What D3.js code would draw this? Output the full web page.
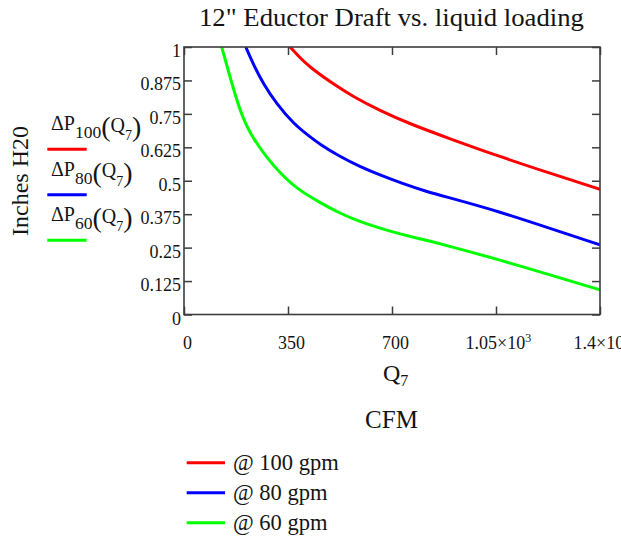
<!DOCTYPE html>
<html><head><meta charset="utf-8">
<script src="https://cdn.jsdelivr.net/npm/d3@7/dist/d3.min.js"></script>
<style>
html,body{margin:0;padding:0;background:#fff;}
svg{display:block;font-family:"Liberation Serif","Times New Roman",serif;}
</style></head><body>
<svg id="c" width="621" height="542"></svg>
<script>
// ---- data ----
const title = '12" Eductor Draft vs. liquid loading';
const seriesNames = ["100", "80", "60"];
const legendLabels = ["@ 100 gpm", "@ 80 gpm", "@ 60 gpm"];
const seriesColors = ["#ff0000", "#0000ff", "#00ff00"];
const q100 = [357, 390, 424, 502, 570, 660, 761, 895, 1063, 1232, 1400];
const dp100 = [1.0, 0.960, 0.924, 0.862, 0.814, 0.762, 0.712, 0.657, 0.590, 0.528, 0.468];
const q80 = [208, 233, 267, 312, 368, 424, 458, 525, 592, 660, 727, 817, 895, 1063, 1232, 1400];
const dp80 = [1.0, 0.936, 0.862, 0.787, 0.714, 0.664, 0.636, 0.590, 0.553, 0.521, 0.493, 0.459, 0.436, 0.384, 0.322, 0.26];
const q60 = [127, 155, 188, 222, 284, 323, 379, 458, 525, 592, 660, 727, 817, 895, 1063, 1232, 1400];
const dp60 = [1.0, 0.887, 0.762, 0.675, 0.578, 0.530, 0.470, 0.418, 0.378, 0.347, 0.322, 0.301, 0.277, 0.255, 0.204, 0.148, 0.092];
const xTicks = [0, 350, 700, 1050, 1400];
const yTicks = [0, 0.125, 0.25, 0.375, 0.5, 0.625, 0.75, 0.875, 1];
const yTickLabels = ["0", "0.125", "0.25", "0.375", "0.5", "0.625", "0.75", "0.875", "1"];

const series = [
  {name: seriesNames[0], q: q100, dp: dp100, color: seriesColors[0], legend: legendLabels[0]},
  {name: seriesNames[1], q: q80, dp: dp80, color: seriesColors[1], legend: legendLabels[1]},
  {name: seriesNames[2], q: q60, dp: dp60, color: seriesColors[2], legend: legendLabels[2]}
];

// ---- layout ----
const L = 184, R = 600, T = 47, B = 314.5;
const svg = d3.select("#c");
const x = d3.scaleLinear().domain([0, 1400]).range([L, R]);
const y = d3.scaleLinear().domain([0, 1]).range([B, T]);
const ink = "#141414";
const frame = "#3c3c3c";

// title
svg.append("text").attr("x", 391.5).attr("y", 26).attr("text-anchor", "middle")
  .attr("font-size", 25.5).attr("textLength", 385).attr("lengthAdjust", "spacingAndGlyphs")
  .attr("fill", ink).text(title);

// clip
svg.append("clipPath").attr("id", "clip").append("rect")
  .attr("x", L).attr("y", T).attr("width", R - L).attr("height", B - T);

// curves
const line = d3.line().x(d => x(d[0])).y(d => y(d[1])).curve(d3.curveBasis);
const g = svg.append("g").attr("clip-path", "url(#clip)");
series.forEach(s => {
  g.append("path").datum(s.q.map((v, i) => [v, s.dp[i]]))
    .attr("d", line).attr("fill", "none").attr("stroke", s.color)
    .attr("stroke-width", 3).attr("stroke-linejoin", "round");
});

// axes (inner ticks on all sides)
function styleAxis(sel) {
  sel.select(".domain").remove();
  sel.selectAll(".tick line").attr("stroke", frame).attr("stroke-width", 1.5);
  sel.selectAll("text").attr("fill", ink).attr("font-size", 18)
    .attr("font-family", '"Liberation Serif","Times New Roman",serif');
}
const fmtX = v => v >= 1000 ? (v / 1000) + "×10" : String(v);
const xb = svg.append("g").attr("transform", `translate(0,${B})`)
  .call(d3.axisBottom(x).tickValues(xTicks).tickSizeInner(-8).tickSizeOuter(0).tickPadding(22).tickFormat(fmtX));
styleAxis(xb);
xb.selectAll(".tick text").attr("dx", 3).each(function(d) {
  if (d >= 1000) {
    d3.select(this).attr("text-anchor", "start").attr("dx", 0)
      .attr("x", d === 1400 ? -27 : -31);
    d3.select(this).append("tspan").attr("font-size", 12).attr("dy", "-0.6em").text("3");
  }
});
const xt = svg.append("g").attr("transform", `translate(0,${T})`)
  .call(d3.axisTop(x).tickValues(xTicks).tickSizeInner(-8).tickSizeOuter(0).tickFormat(""));
styleAxis(xt);
const yl = svg.append("g").attr("transform", `translate(${L},0)`)
  .call(d3.axisLeft(y).tickValues(yTicks).tickSizeInner(-8).tickSizeOuter(0).tickPadding(3)
    .tickFormat((d, i) => yTickLabels[i]));
styleAxis(yl);
yl.selectAll(".tick text").attr("dy", "0.53em");
const yr = svg.append("g").attr("transform", `translate(${R},0)`)
  .call(d3.axisRight(y).tickValues(yTicks).tickSizeInner(-8).tickSizeOuter(0).tickFormat(""));
styleAxis(yr);

// frame
svg.append("rect").attr("x", L).attr("y", T).attr("width", R - L).attr("height", B - T)
  .attr("fill", "none").attr("stroke", frame).attr("stroke-width", 1.6);

// x label Q7 and CFM
const qx = svg.append("text").attr("x", 383).attr("y", 381).attr("fill", ink);
qx.append("tspan").attr("font-size", 24).text("Q");
qx.append("tspan").attr("font-size", 16).attr("dy", 5).attr("dx", 0).text("7");
svg.append("text").attr("x", 391.5).attr("y", 428).attr("text-anchor", "middle")
  .attr("font-size", 25).attr("fill", ink).text("CFM");

// y label
svg.append("text").attr("transform", "translate(28,181) rotate(-90)").attr("text-anchor", "middle")
  .attr("font-size", 24).attr("fill", ink).text("Inches H20");

// left legend (trace names)
series.forEach((s, i) => {
  const ly = 149.3 + i * 45.5;
  const base = ly - 19.3;
  const t = svg.append("text").attr("x", 51).attr("y", base).attr("fill", ink);
  t.append("tspan").attr("font-size", 20).text("ΔP");
  t.append("tspan").attr("font-size", 17.5).attr("dy", 8.3).text(s.name);
  t.append("tspan").attr("font-size", 28).attr("dy", -2.3).text("(");
  t.append("tspan").attr("font-size", 20).attr("dy", -4.3).text("Q");
  t.append("tspan").attr("font-size", 14).attr("dy", 8.3).text("7");
  t.append("tspan").attr("font-size", 28).attr("dy", -4).text(")");
  svg.append("line").attr("x1", 47.3).attr("x2", 86.7)
    .attr("y1", ly).attr("y2", ly).attr("stroke", s.color).attr("stroke-width", 3);
});

// bottom legend
series.forEach((s, i) => {
  const ly = 462.7 + i * 30;
  svg.append("line").attr("x1", 186.7).attr("x2", 225).attr("y1", ly).attr("y2", ly)
    .attr("stroke", s.color).attr("stroke-width", 3);
  svg.append("text").attr("x", 233).attr("y", ly + 7.5).attr("font-size", 22.5)
    .attr("fill", ink).text(s.legend);
});
</script>
</body></html>
